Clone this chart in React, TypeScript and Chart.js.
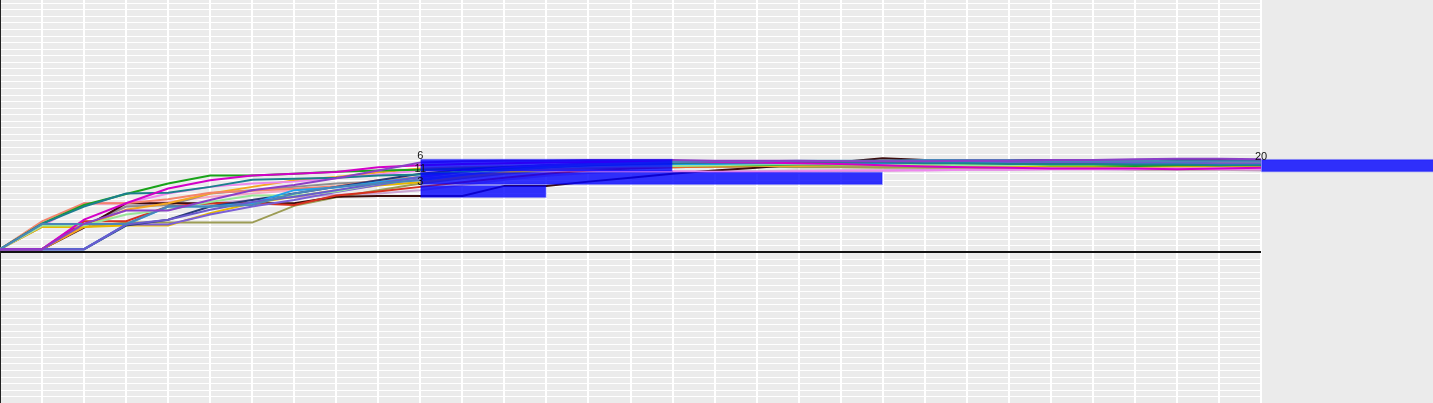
import { useEffect, useRef } from "react";
import { Chart, registerables } from "chart.js";

Chart.register(...registerables);

// x positions (rounds)
const rounds = [0, 1, 2, 3, 4, 5, 6, 7, 8, 9, 10, 11, 12, 13, 14, 15, 16, 17, 18, 19, 20, 21, 22, 23, 24, 25, 26, 27, 28, 29, 30];

const seriesNames = [
  "purple", "steelblue", "magenta", "teal", "slate", "skyblue", "lightgreen", "navy", "mediumpurple", "green",
  "salmon", "violet", "gold", "orange", "red", "brown", "olive", "gray", "lavender", "pink",
];

const seriesColors = [
  "#8b3fc7", "#4a86b8", "#d400c8", "#1b7f8e", "#6a5acd", "#1fa3ec", "#98e698", "#283a78", "#7b5fd6", "#19a319",
  "#f4846c", "#ee88ee", "#e6b800", "#f5a623", "#d7301f", "#3d0c0c", "#9c9c55", "#8f8f8f", "#c9a3d1", "#f7a8c8",
];

const purple = [0, 0, 3.9, 5.9, 5.9, 7.5, 9.0, 9.8, 10.8, 12.0, 13.2, 13.4, 13.5, 13.5, 13.6, 13.6, 13.6, 13.5, 13.5, 13.5, 13.4, 13.4, 13.4, 13.5, 13.5, 13.6, 13.6, 13.7, 13.8, 13.8, 13.7];
const steelBlue = [0, 3.85, 3.85, 3.85, 6.5, 6.5, 6.75, 8.5, 9.5, 10.0, 10.5, 11.3, 12.0, 12.5, 12.9, 13.1, 13.3, 13.4, 13.4, 13.5, 13.5, 13.5, 13.6, 13.6, 13.6, 13.5, 13.5, 13.5, 13.4, 13.4, 13.4];
const magenta = [0, 0, 4.5, 7.0, 9.25, 10.5, 11.25, 11.5, 11.75, 12.5, 12.8, 13.0, 13.1, 13.2, 13.3, 13.3, 13.4, 13.3, 13.2, 13.1, 13.0, 12.8, 12.6, 12.5, 12.4, 12.3, 12.3, 12.3, 12.2, 12.3, 12.4];
const teal = [0, 3.85, 6.5, 8.5, 8.6, 9.5, 10.6, 10.75, 10.9, 11.25, 11.4, 11.8, 12.2, 12.5, 12.8, 13.0, 13.1, 13.2, 13.2, 13.3, 13.2, 13.2, 13.1, 13.1, 13.0, 13.0, 13.0, 12.9, 12.9, 12.8, 12.8];
const slate = [0, 0, 0, 3.75, 4.5, 6.0, 7.2, 8.0, 9.0, 10.0, 11.0, 11.8, 12.4, 12.8, 13.0, 13.1, 13.2, 13.2, 13.3, 13.3, 13.3, 13.4, 13.4, 13.4, 13.3, 13.3, 13.2, 13.2, 13.2, 13.1, 13.1];
const skyBlue = [0, 0, 0, 3.75, 6.5, 6.5, 7.0, 9.0, 9.4, 10.2, 11.0, 11.8, 12.3, 12.6, 12.8, 12.9, 13.0, 13.0, 13.1, 13.1, 13.1, 13.1, 13.2, 13.2, 13.2, 13.1, 13.1, 13.1, 13.0, 13.0, 13.0];
const lightGreen = [0, 3.6, 3.6, 5.3, 6.0, 7.2, 8.2, 8.2, 8.8, 10.0, 11.0, 11.6, 12.1, 12.4, 12.6, 12.7, 12.7, 12.8, 12.9, 13.0, 12.9, 12.9, 12.9, 12.8, 12.8, 12.9, 12.9, 13.0, 13.0, 13.0, 13.1];
const navy = [0, 0, 0, 3.6, 4.5, 6.5, 7.5, 8.5, 9.5, 10.5, 11.5, 12.1, 12.5, 12.8, 13.0, 13.1, 13.2, 13.3, 13.3, 13.4, 13.4, 13.5, 13.5, 13.5, 13.6, 13.6, 13.6, 13.6, 13.6, 13.5, 13.5];
const mediumPurple = [0, 0, 0, 3.75, 3.75, 5.3, 6.5, 7.5, 8.7, 9.8, 10.8, 11.5, 12.1, 12.5, 12.7, 12.8, 12.9, 13.0, 13.0, 13.1, 13.1, 13.2, 13.2, 13.3, 13.3, 13.4, 13.4, 13.4, 13.5, 13.5, 13.5];
const green = [0, 3.9, 6.75, 8.4, 10.0, 11.25, 11.25, 11.5, 11.8, 12.0, 12.1, 12.3, 12.5, 12.6, 12.7, 12.8, 12.8, 12.8, 12.8, 12.9, 12.9, 13.0, 13.0, 12.9, 12.9, 12.8, 12.8, 12.7, 12.8, 12.8, 12.9];
const salmon = [0, 4.25, 7.0, 7.0, 7.6, 8.6, 8.9, 9.2, 9.6, 10.5, 11.0, 11.5, 12.0, 12.3, 12.5, 12.6, 12.7, 12.8, 12.8, 12.9, 13.0, 13.1, 13.3, 13.4, 13.5, 13.5, 13.4, 13.3, 13.3, 13.2, 13.2];
const violet = [0, 3.6, 7.0, 7.0, 8.5, 9.5, 10.0, 10.3, 10.8, 11.4, 12.0, 12.1, 12.1, 12.0, 12.0, 11.9, 11.9, 11.8, 11.8, 11.9, 12.0, 12.0, 12.0, 12.1, 12.1, 12.2, 12.2, 12.2, 12.3, 12.2, 12.2];
const gold = [0, 3.4, 3.4, 3.6, 3.6, 5.5, 7.0, 8.0, 9.0, 9.7, 10.2, 11.0, 11.7, 12.2, 12.5, 12.7, 12.8, 12.8, 12.9, 12.9, 12.9, 12.8, 12.8, 12.7, 12.7, 12.7, 12.6, 12.6, 12.6, 12.7, 12.7];
const orange = [0, 0, 3.4, 6.0, 7.0, 8.5, 9.5, 10.5, 11.0, 11.7, 12.3, 12.5, 12.6, 12.7, 12.7, 12.6, 12.6, 12.6, 12.7, 12.7, 12.8, 12.8, 12.9, 13.0, 13.0, 13.1, 13.1, 13.1, 13.0, 13.0, 13.0];
const red = [0, 0, 4.25, 4.25, 6.5, 7.0, 7.0, 6.75, 8.2, 8.8, 9.5, 10.2, 10.9, 11.5, 12.0, 12.3, 12.5, 12.6, 12.7, 12.8, 12.9, 13.0, 13.1, 13.1, 13.2, 13.2, 13.1, 13.0, 12.9, 12.9, 12.8];
const brown = [0, 0, 3.3, 7.0, 7.0, 7.0, 7.0, 7.0, 8.0, 8.1, 8.1, 8.1, 9.65, 9.65, 10.3, 10.9, 11.5, 12.0, 12.4, 12.9, 13.3, 13.85, 13.6, 13.5, 13.4, 13.3, 13.4, 13.5, 13.6, 13.6, 13.5];
const olive = [0, 3.4, 3.4, 4.05, 4.05, 4.05, 4.05, 6.6, 7.9, 9.0, 10.0, 10.8, 11.5, 12.0, 12.3, 12.5, 12.6, 12.6, 12.6, 12.5, 12.5, 12.4, 12.4, 12.4, 12.3, 12.3, 12.3, 12.2, 12.2, 12.2, 12.2];
const gray = [0, 0, 3.6, 6.5, 6.7, 8.5, 9.0, 9.5, 10.0, 10.3, 10.8, 11.4, 11.9, 12.2, 12.4, 12.5, 12.5, 12.6, 12.6, 12.6, 12.7, 12.7, 12.7, 12.8, 12.8, 12.8, 12.8, 12.7, 12.7, 12.7, 12.6];
const lavender = [0, 3.5, 3.5, 6.5, 7.0, 7.0, 7.5, 7.9, 8.3, 8.5, 9.0, 9.8, 10.6, 11.2, 11.6, 11.8, 11.9, 11.9, 11.9, 12.0, 12.0, 12.0, 12.1, 12.1, 12.1, 12.2, 12.2, 12.1, 12.1, 12.1, 12.0];
const pink = [0, 3.6, 6.9, 7.0, 7.2, 8.0, 8.5, 9.0, 9.5, 10.0, 10.6, 11.2, 11.6, 11.8, 11.85, 11.85, 11.8, 11.8, 11.8, 11.85, 11.9, 12.0, 12.1, 12.2, 12.3, 12.3, 12.4, 12.4, 12.5, 12.5, 12.5];

const seriesValues = [
  purple, steelBlue, magenta, teal, slate, skyBlue, lightGreen, navy, mediumPurple, green,
  salmon, violet, gold, orange, red, brown, olive, gray, lavender, pink,
];

// floating horizontal bars
const barStarts = [10, 10, 10, 30];
const barValues = [6, 11, 3, 20];
const barLevels = [12.8, 10.8, 8.8, 12.75];

const Y_MIN = -22.94;
const Y_MAX = 37.48;

const barLabelPlugin = {
  id: "barLabels",
  afterDatasetsDraw(chart: any) {
    const barIndex = chart.data.datasets.length - 1;
    const meta = chart.getDatasetMeta(barIndex);
    const ctx = chart.ctx;
    const xScale = chart.scales.x;
    ctx.save();
    ctx.font = '11px "Liberation Sans", Arial, sans-serif';
    ctx.fillStyle = "#111";
    ctx.textAlign = "center";
    ctx.textBaseline = "middle";
    meta.data.forEach((el: any, i: number) => {
      const { y, height } = el.getProps(["y", "height"], true);
      const x = xScale.getPixelForValue(barStarts[i]);
      ctx.fillText(String(barValues[i]), x, y - height / 2 - 2.5);
    });
    ctx.restore();
  },
};

export default function App() {
  const canvasRef = useRef<HTMLCanvasElement | null>(null);

  useEffect(() => {
    if (!canvasRef.current) return;
    const lineSets = seriesValues.map((vals, s) => ({
      type: "line" as const,
      label: seriesNames[s],
      data: rounds.map((r, i) => ({ x: r, y: vals[i] })),
      borderColor: seriesColors[s],
      backgroundColor: seriesColors[s],
      borderWidth: 2,
      pointRadius: 0,
      tension: 0,
      fill: false,
      order: 1,
    }));
    const barSet = {
      type: "bar" as const,
      label: "bars",
      indexAxis: "y" as const,
      data: barStarts.map((s, i) => ({ x: [s, s + barValues[i]], y: barLevels[i] })),
      backgroundColor: "rgba(0,0,255,0.8)",
      borderColor: "rgba(0,0,255,0.3)",
      borderWidth: 1,
      borderSkipped: false,
      barThickness: 13,
      clip: false as any,
      order: 0,
    };
    const chart = new Chart(canvasRef.current, {
      type: "line",
      data: { datasets: [...lineSets, barSet] as any },
      options: {
        animation: false,
        responsive: false,
        events: [],
        layout: { padding: { left: 0, right: 172, top: 0, bottom: 0 } },
        plugins: { legend: { display: false }, tooltip: { enabled: false } },
        scales: {
          x: {
            type: "linear",
            min: 0,
            max: 30,
            ticks: { display: false, stepSize: 1 },
            grid: { color: "#ffffff", lineWidth: 2, drawTicks: false },
            border: { display: false },
          },
          y: {
            type: "linear",
            min: Y_MIN,
            max: Y_MAX,
            ticks: { display: false, stepSize: 1, includeBounds: false },
            grid: {
              color: (c: any) => (c.tick && c.tick.value === 0 ? "#111111" : "#ffffff"),
              lineWidth: (c: any) => (c.tick && c.tick.value === 0 ? 2 : 1),
              drawTicks: false,
            },
            border: { display: true, color: "#222222", width: 2 },
          },
        },
      } as any,
      plugins: [barLabelPlugin],
    });
    return () => chart.destroy();
  }, []);

  return (
    <div style={{ position: "fixed", left: 0, top: 0, width: 1433, height: 403 }}>
      <canvas
        ref={canvasRef}
        width={1433}
        height={403}
        style={{ display: "block", background: "#ebebeb" }}
      />
    </div>
  );
}
